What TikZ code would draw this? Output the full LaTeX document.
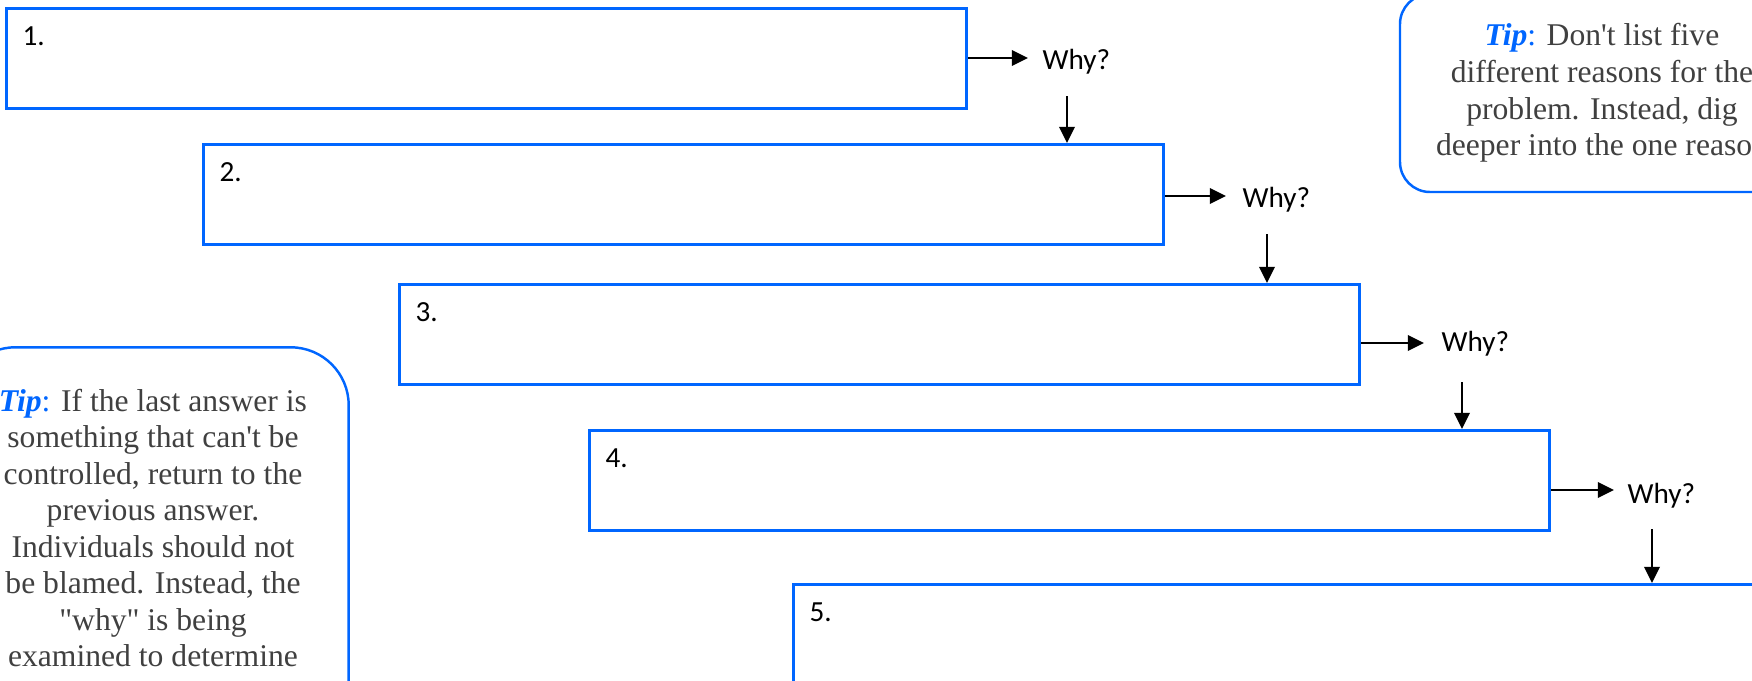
\documentclass[tikz,border=0pt]{standalone}
\usepackage{fontspec}
\setmainfont{Liberation Serif}[Ligatures=TeXOff]
\newfontfamily\calibri{Carlito}
\usetikzlibrary{arrows.meta}
\definecolor{boxblue}{RGB}{0,102,255}
\definecolor{tipgray}{RGB}{64,64,64}
\newcommand{\tipword}{\textcolor{boxblue}{\textbf{\textit{Tip}}:}}

\begin{document}
\begin{tikzpicture}[%
      x=0.1mm, y=-0.1mm,
      answer/.style={draw=boxblue, line width=0.9pt, minimum width=96mm, minimum height=10mm, anchor=north west, inner sep=0pt},
      num/.style={font=\calibri\fontsize{8.3pt}{10pt}\selectfont, anchor=base west, inner sep=0pt},
      why/.style={font=\calibri\fontsize{8.3pt}{10pt}\selectfont, anchor=base west, inner sep=0pt},
      tip/.style={align=center, text=tipgray, font=\fontsize{9pt}{10.4pt}\selectfont, inner sep=0pt},
      tipframe/.style={draw=boxblue, line width=0.7pt},
      arr/.style={-{Triangle[length=4.6pt,width=4.4pt]}, line width=0.6pt},
      ]
      \useasboundingbox (0,0) rectangle (1752,680);
      \clip (0,0) rectangle (1752,680);

      % answer boxes
      \node[answer] (b1) at (5,7) {};
      \node[answer] (b2) at (202,143) {};
      \node[answer] (b3) at (398,283) {};
      \node[answer] (b4) at (588,429) {};
      \node[answer] (b5) at (792,583) {};

      \node[num] (n1) at ([xshift=1.7mm,yshift=-3.85mm]b1.north west) {1.};
      \node[num] (n2) at ([xshift=1.7mm,yshift=-3.85mm]b2.north west) {2.};
      \node[num] (n3) at ([xshift=1.7mm,yshift=-3.85mm]b3.north west) {3.};
      \node[num] (n4) at ([xshift=1.7mm,yshift=-3.85mm]b4.north west) {4.};
      \node[num] (n5) at ([xshift=1.7mm,yshift=-3.85mm]b5.north west) {5.};

      % why labels
      \node[why] (w1) at (1042,69) {Why?};
      \node[why] (w2) at (1242,207) {Why?};
      \node[why] (w3) at (1441,351) {Why?};
      \node[why] (w4) at (1627,503) {Why?};

      \coordinate (r1) at ([xshift=-1.4mm,yshift=1.1mm]w1.base west);
      \coordinate (r2) at ([xshift=-1.6mm,yshift=1.1mm]w2.base west);
      \coordinate (r3) at ([xshift=-1.7mm,yshift=0.8mm]w3.base west);
      \coordinate (r4) at ([xshift=-1.3mm,yshift=1.3mm]w4.base west);
      \draw[arr] (b1.east |- r1) -- (r1);
      \draw[arr] (b2.east |- r2) -- (r2);
      \draw[arr] (b3.east |- r3) -- (r3);
      \draw[arr] (b4.east |- r4) -- (r4);

      \coordinate (d1) at ([xshift=2.5mm,yshift=-2.7mm]w1.base west);
      \coordinate (d2) at ([xshift=2.5mm,yshift=-2.7mm]w2.base west);
      \coordinate (d3) at ([xshift=2.1mm,yshift=-3.1mm]w3.base west);
      \coordinate (d4) at ([xshift=2.5mm,yshift=-2.6mm]w4.base west);
      \draw[arr] (d1) -- (d1 |- b2.north);
      \draw[arr] (d2) -- (d2 |- b3.north);
      \draw[arr] (d3) -- (d3 |- b4.north);
      \draw[arr] (d4) -- (d4 |- b5.north);

      % tips
      \node[tip, tipframe, minimum width=40.4mm, minimum height=19.8mm, rounded corners=3mm] (tip1) at (1602,93)
        {\tipword{} Don't list five\\different reasons for the\\problem. Instead, dig\\deeper into the one reason};
      \node[tip, minimum width=39mm, minimum height=36mm] (tip2) at (153,528)
        {\tipword{} If the last answer is\\something that can't be\\controlled, return to the\\previous answer.\\Individuals should not\\be blamed. Instead, the\\"why" is being\\examined to determine};
      \draw[tipframe, rounded corners=5.8mm] (tip2.north west) rectangle ([yshift=-4cm]tip2.south east);
\end{tikzpicture}
\end{document}
